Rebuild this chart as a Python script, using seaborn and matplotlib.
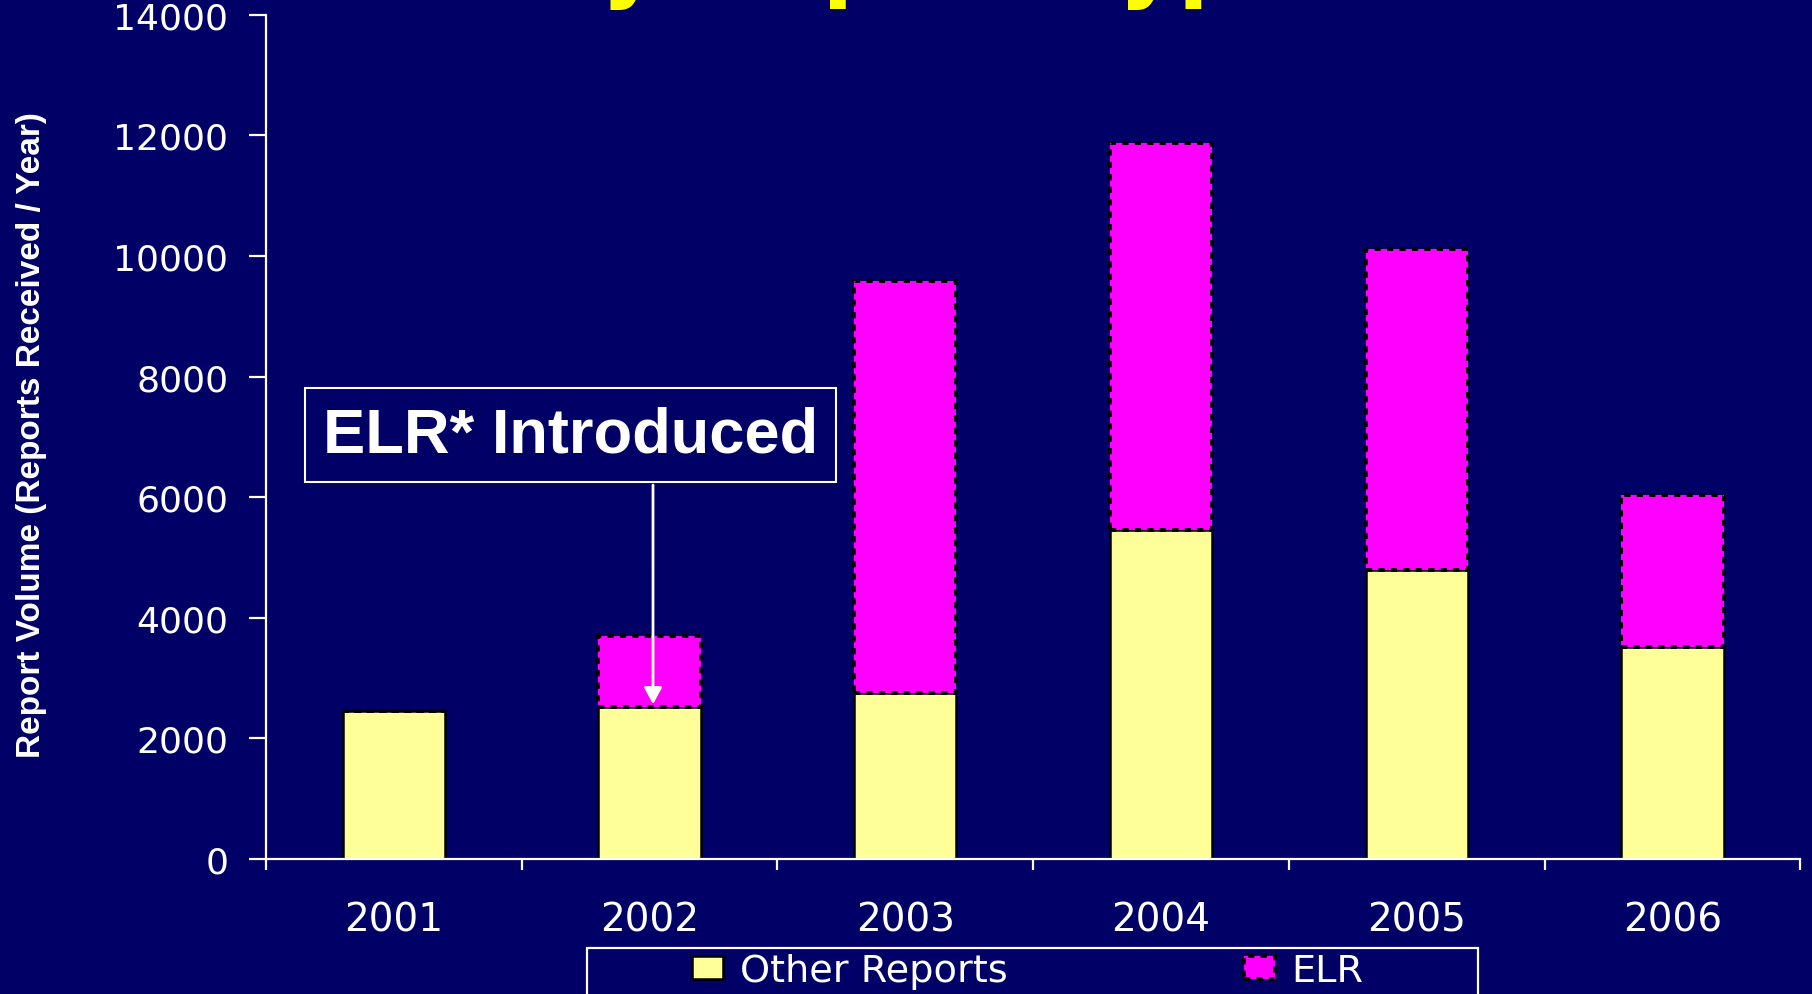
import matplotlib
matplotlib.use("Agg")
import matplotlib.pyplot as plt
from matplotlib.patches import Rectangle
import seaborn as sns
import numpy as np

# ---- data ----
years = ["2001", "2002", "2003", "2004", "2005", "2006"]
other_reports = [2450, 2520, 2745, 5455, 4790, 3510]
elr_reports = [0, 1175, 6835, 6410, 5320, 2530]
series_labels = ["Other Reports", "ELR"]
y_ticks = [0, 2000, 4000, 6000, 8000, 10000, 12000, 14000]
title_text = "Volume by Report Type"
annotation_text = "ELR* Introduced"
y_label = "Report Volume (Reports Received / Year)"

BG = "#000066"
YELLOW = "#FFFF99"
MAGENTA = "#FF00FF"

sns.set_style("ticks")
plt.rcParams["font.family"] = ["DejaVu Sans"]

W, H = 1812, 995
fig = plt.figure(figsize=(W / 100, H / 100), dpi=100, facecolor=BG)
ax = fig.add_axes([265.8 / W, 1 - 860 / H, (1800.4 - 265.8) / W, (860 - 15.7) / H])
ax.set_facecolor(BG)

sns.barplot(x=years, y=other_reports, color=YELLOW, saturation=1, width=0.4,
            edgecolor="black", linewidth=1.8, ax=ax)
sns.barplot(x=years, y=elr_reports, bottom=other_reports, color=MAGENTA, saturation=1,
            width=0.4, edgecolor="black", linewidth=2.8, linestyle=(0, (1.6, 1.6)),
            ax=ax)
if ax.get_legend() is not None:
    ax.get_legend().remove()

ax.set_xlim(-0.5, len(years) - 0.5)
ax.set_ylim(y_ticks[0], y_ticks[-1])
ax.set_yticks(y_ticks)
ax.set_yticklabels([str(t) for t in y_ticks])
ax.set_xticks(range(len(years)))
ax.set_xticklabels(years)
ax.set_xticks(np.arange(-0.5, len(years), 1.0), minor=True)
ax.set_xlabel("")
ax.set_ylabel("")

for side in ["top", "right"]:
    ax.spines[side].set_visible(False)
for side in ["left", "bottom"]:
    ax.spines[side].set_color("white")
    ax.spines[side].set_linewidth(1.6)

ax.tick_params(axis="y", which="major", length=12, width=1.6, color="white",
               labelcolor="white", labelsize=26, pad=15, direction="out")
ax.tick_params(axis="x", which="major", length=0, labelcolor="white",
               labelsize=28, pad=30)
ax.tick_params(axis="x", which="minor", length=8, width=1.6, color="white",
               direction="out")

# y label
fig.text(32 / W, 1 - 435 / H, y_label, rotation=90, ha="center", va="center",
         color="white", fontsize=24, fontweight="bold",
         family=["Liberation Sans", "DejaVu Sans"])

# title (mostly off-canvas, only descenders visible)
fig.text(128 / W, 1 + 10 / H, title_text, ha="left", va="baseline",
         color="#FFFF00", fontsize=65, fontweight="bold")

# annotation box and arrow
fig.text(570.7 / W, 1 - 436 / H, annotation_text, ha="center", va="center",
         color="white", fontsize=45.5, fontweight="bold",
         family=["Liberation Sans", "DejaVu Sans"],
         bbox=dict(boxstyle="square,pad=0.28", fc=BG, ec="white", lw=1.5))
ax.annotate("", xy=(1.014, other_reports[1]), xycoords="data",
            xytext=(653 / W, 1 - 486 / H), textcoords="figure fraction",
            arrowprops=dict(arrowstyle="-|>,head_length=0.5,head_width=0.27",
                            mutation_scale=20, color="white", lw=2,
                            shrinkA=0, shrinkB=2))

# legend frame
fig.patches.append(Rectangle((587 / W, -0.05), (1478.4 - 587) / W, 0.05 + 1 - 949.3 / H,
                             transform=fig.transFigure, fc=BG, ec="white", lw=1.6,
                             zorder=1))
leg_kw = dict(loc="upper left", frameon=False, fontsize=27.5, labelcolor="white",
              handlelength=0.8, handleheight=0.55, handletextpad=0.45,
              borderpad=0, borderaxespad=0)
fig.legend(handles=[ax.containers[0]], labels=[series_labels[0]],
           bbox_to_anchor=(692 / W, 1 - 954 / H), **leg_kw)
fig.legend(handles=[ax.containers[1]], labels=[series_labels[1]],
           bbox_to_anchor=(1244 / W, 1 - 954 / H), **leg_kw)

fig.savefig("out.png", dpi=100, facecolor=BG)
